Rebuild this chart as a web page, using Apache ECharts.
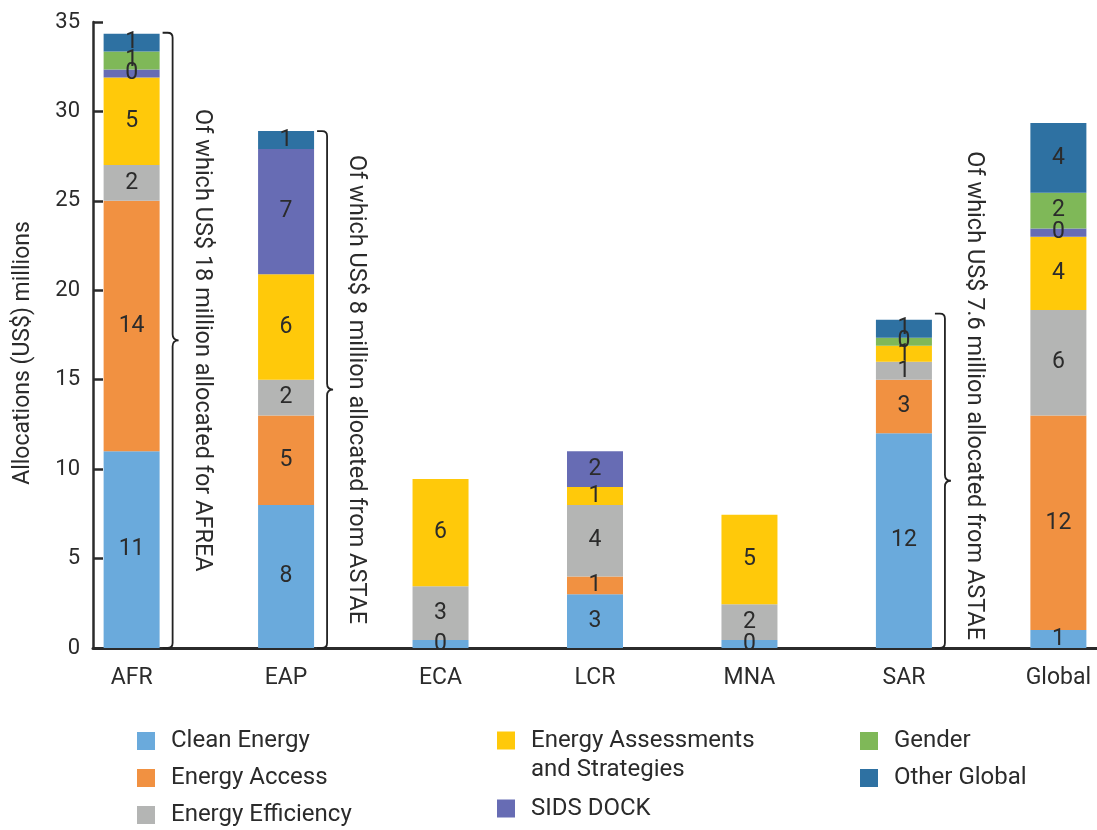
<!DOCTYPE html>
<html><head><meta charset="utf-8">
<script src="https://cdn.jsdelivr.net/npm/echarts@6/dist/echarts.min.js"></script>
<style>html,body{margin:0;padding:0;background:#fff}#c{width:1097px;height:830px}</style>
</head><body><div id="c"></div>
<script>
const categories = ['AFR', 'EAP', 'ECA', 'LCR', 'MNA', 'SAR', 'Global'];
const cleanEnergy       = [11,   8,    0.45, 3,    0.45, 12,   1];
const energyAccess      = [14,   5,    null, 1,    null, 3,    12];
const energyEfficiency  = [2,    2,    3,    4,    2,    1,    5.9];
const energyAssessments = [4.9,  5.9,  6,    1,    5,    0.9,  4.1];
const sidsDock          = [0.45, 7,    null, 2,    null, null, 0.45];
const gender            = [1,    null, null, null, null, 0.45, 2];
const otherGlobal       = [1,    1,    null, null, null, 1,    3.9];

const braceCategories = [0, 1, 5];
const braceTops = [34.4, 28.9, 18.7];
const braceTexts = [
  'Of which US$ 18 million allocated for AFREA',
  'Of which US$ 8 million allocated from ASTAE',
  'Of which US$ 7.6 million allocated from ASTAE'
];

const FONT = 'Roboto';
const TXT = '#2b2b2b';

const seriesDefs = [
  ['Clean Energy', cleanEnergy, '#6aaadc'],
  ['Energy Access', energyAccess, '#f19141'],
  ['Energy Efficiency', energyEfficiency, '#b4b5b4'],
  ['Energy Assessments and Strategies', energyAssessments, '#ffc90a'],
  ['SIDS DOCK', sidsDock, '#676cb4'],
  ['Gender', gender, '#7fb858'],
  ['Other Global', otherGlobal, '#2e71a2']
];

const measureCtx = document.createElement('canvas').getContext('2d');
const BRACE_FS = 23.5;

const barSeries = seriesDefs.map(([name, vals, color]) => ({
  name: name,
  type: 'bar',
  stack: 'total',
  barWidth: 56,
  encode: { x: 1, y: 0 },
  itemStyle: { color: color },
  label: {
    show: true,
    position: 'inside',
    color: TXT,
    fontFamily: FONT,
    fontSize: 23,
    formatter: p => String(Math.round(p.value[0]))
  },
  data: vals.map((v, i) => [v == null ? null : v, i])
}));

const braceSeries = {
  type: 'custom',
  silent: true,
  z: 5,
  data: braceCategories.map((c, i) => [c, braceTops[i], i]),
  renderItem: function (params, api) {
    const idx = api.value(2);
    const top = api.coord([api.value(0), api.value(1)]);
    const bot = api.coord([api.value(0), 0]);
    const xl = top[0] + 31, xv = xl + 10, r = 5;
    const yt = top[1], yb = bot[1], ym = (yt + yb) / 2;
    const d = 'M' + xl + ',' + yt + ' L' + (xv - r) + ',' + yt +
      ' Q' + xv + ',' + yt + ' ' + xv + ',' + (yt + r) +
      ' L' + xv + ',' + (ym - 6) +
      ' Q' + xv + ',' + ym + ' ' + (xv + 6) + ',' + ym +
      ' Q' + xv + ',' + ym + ' ' + xv + ',' + (ym + 6) +
      ' L' + xv + ',' + (yb - r) +
      ' Q' + xv + ',' + yb + ' ' + (xv - r) + ',' + yb +
      ' L' + xl + ',' + yb;
    const text = braceTexts[idx];
    measureCtx.font = BRACE_FS + 'px ' + FONT;
    const len = measureCtx.measureText(text).width;
    let ty = ym, align = 'center';
    if (len > (yb - yt)) { ty = yb - 8; align = 'right'; }
    return {
      type: 'group',
      children: [
        { type: 'path', shape: { pathData: d }, style: { fill: null, stroke: '#222', lineWidth: 1.8 } },
        {
          type: 'text',
          x: xv + 29, y: ty, rotation: -Math.PI / 2,
          style: { text: text, fill: TXT, fontSize: BRACE_FS, fontFamily: FONT, align: align, verticalAlign: 'middle' }
        }
      ]
    };
  }
};

const legendBase = {
  orient: 'vertical',
  icon: 'rect',
  itemWidth: 18,
  itemHeight: 18,
  padding: 0,
  height: 130,
  selectedMode: false,
  textStyle: { fontSize: 24, color: TXT, fontFamily: FONT, padding: [0, 0, 0, 11], lineHeight: 22 }
};

const chart = echarts.init(document.getElementById('c'), null, { renderer: 'canvas' });
chart.setOption({
  animation: false,
  backgroundColor: '#fff',
  textStyle: { fontFamily: FONT },
  grid: { left: 93, right: 0, top: 22, bottom: 182, containLabel: false },
  legend: [
    Object.assign({}, legendBase, { left: 137, top: 729, itemGap: 13, data: ['Clean Energy', 'Energy Access', 'Energy Efficiency'] }),
    Object.assign({}, legendBase, {
      left: 497, top: 697, itemGap: 10,
      data: ['Energy Assessments and Strategies', 'SIDS DOCK'],
      formatter: n => n === 'Energy Assessments and Strategies' ? ' \nEnergy Assessments\nand Strategies' : n,
      textStyle: { fontSize: 24, color: TXT, fontFamily: FONT, padding: [0, 0, 0, 11], lineHeight: 29 }
    }),
    Object.assign({}, legendBase, { left: 860, top: 729, itemGap: 13, data: ['Gender', 'Other Global'] })
  ],
  xAxis: {
    type: 'value',
    min: -0.25,
    max: 6.25,
    splitNumber: 7,
    minInterval: 1,
    maxInterval: 1,
    splitLine: { show: false },
    axisTick: { show: false },
    axisLine: { show: true, onZero: false, lineStyle: { color: '#2b2b2b', width: 3 } },
    axisLabel: {
      color: TXT, fontSize: 23, fontFamily: FONT, margin: 19,
      showMinLabel: false, showMaxLabel: false,
      formatter: v => (Math.abs(v - Math.round(v)) < 1e-6 && categories[Math.round(v)]) ? categories[Math.round(v)] : ''
    }
  },
  yAxis: {
    type: 'value',
    min: 0,
    max: 35,
    interval: 5,
    name: 'Allocations (US$) millions',
    nameLocation: 'middle',
    nameRotate: 90,
    nameGap: 58,
    nameTextStyle: { color: TXT, fontSize: 23, fontFamily: FONT, padding: [0, 36, 0, 0] },
    splitLine: { show: false },
    axisLine: { show: true, onZero: false, lineStyle: { color: '#2b2b2b', width: 2.5 } },
    axisTick: { show: true, inside: true, length: 10, lineStyle: { color: '#2b2b2b', width: 2.5 } },
    axisLabel: { color: TXT, fontSize: 22, fontFamily: FONT, margin: 13 }
  },
  series: barSeries.concat([braceSeries])
});
</script>
</body></html>
